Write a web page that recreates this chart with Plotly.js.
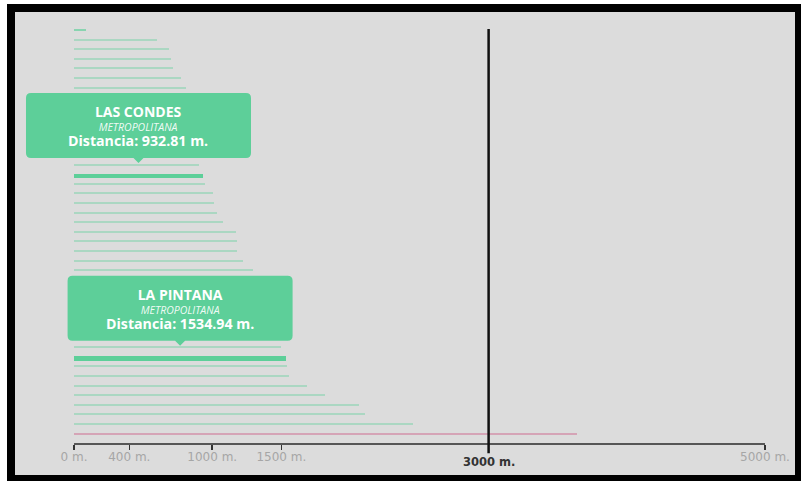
<!DOCTYPE html>
<html><head><meta charset="utf-8">
<script src="https://cdn.plot.ly/plotly-3.0.1.min.js"></script>
<style>
html,body{margin:0;padding:0;background:#fff;width:801px;height:481px;overflow:hidden}
#frame{position:absolute;left:7px;top:4px;width:794px;height:477px;box-sizing:border-box;border-style:solid;border-color:#000;border-width:8px 6px 6px 8px;background:#dcdcdc}
#chart{position:absolute;left:0;top:0;width:801px;height:481px}
</style></head><body>
<div id="frame"></div><div id="chart"></div>
<script>
// Distance (m.) per comuna, sorted ascending; last one is the reference (pink) bar
const distances = [87, 598, 685, 702, 719, 777, 808,
  820, 832, 845, 858, 870, 882, 895,
  907, 932.81, 948, 1003, 1013, 1032, 1081, 1172, 1177, 1177, 1220, 1293,
  1320, 1345, 1370, 1400, 1425, 1450, 1475,
  1495, 1534.94, 1540, 1558, 1685, 1817, 2062, 2104, 2453, 3641];
const rank = distances.map((d, i) => i);
const tickValues = [0, 400, 1000, 1500, 3000, 5000];
const tickLabels = ["0 m.", "400 m.", "1000 m.", "1500 m.", "", "5000 m."];
const referenceDistance = 3000;
const referenceLabel = "3000 m.";
const highlightIndex = [15, 34];
const highlightCommunes = ["LAS CONDES", "LA PINTANA"];
const highlightRegions = ["METROPOLITANA", "METROPOLITANA"];
const pinkIndex = 42;
const axisMax = 5000;

const GREEN = '#5dcf99';
const colors = rank.map(i => highlightIndex.includes(i) ? GREEN :
  i === pinkIndex ? 'rgba(205,95,135,0.45)' :
  i === 0 ? 'rgba(92,207,152,0.65)' : 'rgba(92,207,152,0.38)');
const widths = rank.map(i => highlightIndex.includes(i) ? 0.48 : i === 0 ? 0.3 : 0.21);
const offsets = rank.map(i => highlightIndex.includes(i) ? -0.06 : i === 0 ? -0.15 : -0.105);

const trace = {
  type: 'bar', orientation: 'h', x: distances, y: rank,
  width: widths, offset: offsets,
  marker: {color: colors, line: {width: 0}},
  hoverinfo: 'none'
};

function tipPath() {
  const w = 112.5, b = 16, t = 81, r = 5, tip = 11, pw = 5;
  return `M ${-w + r},${b} L ${-pw},${b} L 0,${tip} L ${pw},${b} L ${w - r},${b} Q ${w},${b} ${w},${b + r} ` +
    `L ${w},${t - r} Q ${w},${t} ${w - r},${t} L ${-w + r},${t} Q ${-w},${t} ${-w},${t - r} ` +
    `L ${-w},${b + r} Q ${-w},${b} ${-w + r},${b} Z`;
}

const shapes = [
  {type: 'line', xref: 'x', yref: 'paper', x0: 0, x1: axisMax, y0: 0, y1: 0,
   line: {color: '#2a2a2a', width: 1.5}},
  {type: 'line', xref: 'x', yref: 'paper', x0: referenceDistance, x1: referenceDistance,
   y0: -0.022, y1: 0.988, line: {color: '#111', width: 2.5}}
];
const annotations = [
  {x: referenceDistance, xref: 'x', y: 0, yref: 'paper', yanchor: 'top', yshift: -9,
   text: '<b>' + referenceLabel + '</b>', showarrow: false,
   font: {family: 'DejaVu Sans', size: 11.5, color: '#333'}}
];
highlightIndex.forEach((idx, k) => {
  const cx = distances[idx] / 2;
  shapes.push({type: 'path', xref: 'x', yref: 'y', xsizemode: 'pixel', ysizemode: 'pixel',
    xanchor: cx, yanchor: idx, path: tipPath(), fillcolor: GREEN, line: {width: 0}, layer: 'above'});
  annotations.push(
    {x: cx, y: idx, xref: 'x', yref: 'y', yanchor: 'middle', yshift: 48, showarrow: false, borderpad: 0,
     text: '<span style="font-size:14px"><b>' + highlightCommunes[k] + '</b></span><br>' +
       '<span style="font-size:10.5px;color:rgba(255,255,255,0.92)"><i>' + highlightRegions[k] + '</i></span><br>' +
       '<span style="font-size:14.2px"><b>Distancia: ' + distances[idx].toFixed(2) + ' m.</b></span>',
     font: {family: 'Open Sans', size: 11, color: '#fff'}}
  );
});

const layout = {
  width: 801, height: 481,
  margin: {l: 20, r: 36, t: 24, b: 37, pad: 0},
  paper_bgcolor: 'rgba(0,0,0,0)', plot_bgcolor: 'rgba(0,0,0,0)',
  showlegend: false, bargap: 0,
  xaxis: {range: [-391, axisMax], tickmode: 'array', tickvals: tickValues, ticktext: tickLabels,
    ticks: 'outside', ticklen: 5, tickwidth: 1.5, tickcolor: '#333', ticklabelstandoff: -3,
    showline: false, showgrid: false, zeroline: false,
    tickfont: {family: 'DejaVu Sans', size: 12, color: '#a6a6a6'}},
  yaxis: {range: [43.08, -0.62], visible: false, showgrid: false, zeroline: false},
  shapes: shapes, annotations: annotations
};
Plotly.newPlot('chart', [trace], layout, {displayModeBar: false, staticPlot: true});
</script>
</body></html>
